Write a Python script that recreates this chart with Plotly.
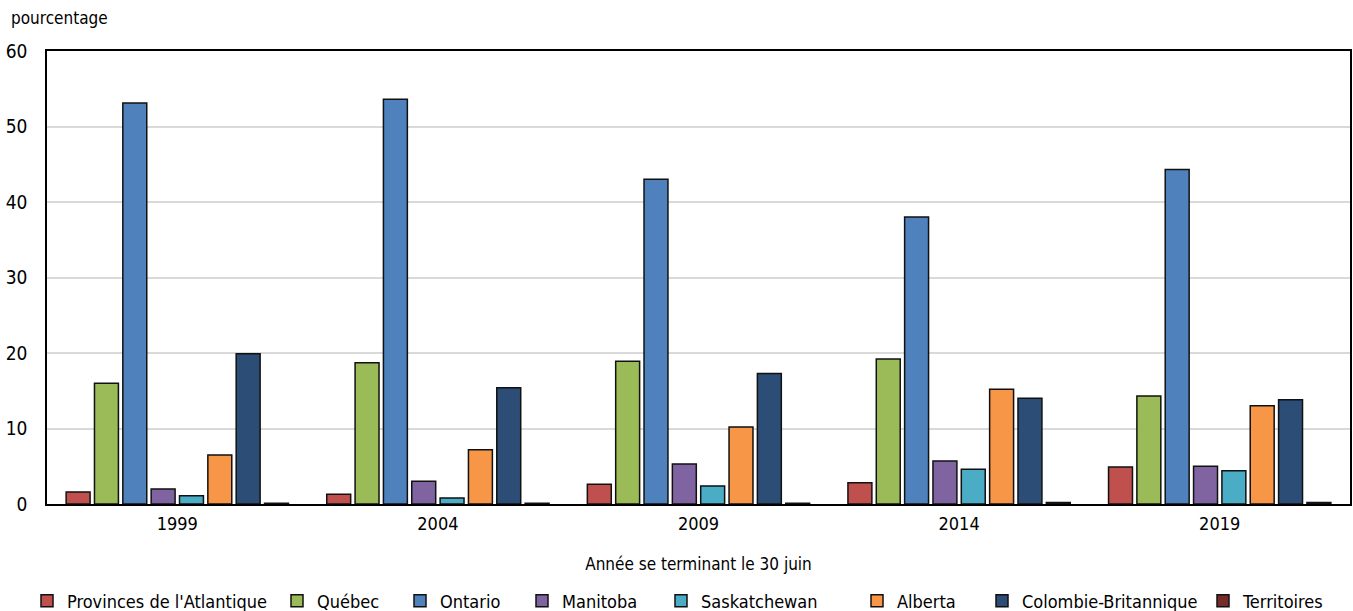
import plotly.graph_objects as go

years = ["1999", "2004", "2009", "2014", "2019"]
series_names = ["Provinces de l'Atlantique", "Québec", "Ontario", "Manitoba",
                "Saskatchewan", "Alberta", "Colombie-Britannique", "Territoires"]
atlantique = [1.6, 1.3, 2.6, 2.8, 4.9]
quebec = [16.0, 18.7, 18.9, 19.2, 14.3]
ontario = [53.1, 53.6, 43.0, 38.0, 44.3]
manitoba = [2.0, 3.0, 5.3, 5.7, 5.0]
saskatchewan = [1.1, 0.8, 2.4, 4.6, 4.4]
alberta = [6.5, 7.2, 10.2, 15.2, 13.0]
colombie = [19.9, 15.4, 17.3, 14.0, 13.8]
territoires = [0.1, 0.1, 0.1, 0.2, 0.2]
y_ticks = [0, 10, 20, 30, 40, 50, 60]

colors = ["#c0504d", "#9bbb59", "#4f81bd", "#8064a2",
          "#4bacc6", "#f79646", "#2c4d75", "#772c2a"]
values = [atlantique, quebec, ontario, manitoba, saskatchewan, alberta, colombie, territoires]
legend_sq_left = [50, 300, 423, 545, 684, 880, 1005, 1226]

W, H = 1353, 611
FONT = "Liberation Sans Narrow, DejaVu Sans Condensed, Arial Narrow, sans-serif"

fig = go.Figure()
for i, (name, vals, col) in enumerate(zip(series_names, values, colors)):
    lg = "legend" if i == 0 else f"legend{i+1}"
    fig.add_trace(go.Bar(
        x=years, y=vals, name=name,
        marker=dict(color=col, line=dict(color="#111111", width=1.5)),
        legend=lg,
    ))

layout_legends = {}
for i, sq in enumerate(legend_sq_left):
    key = "legend" if i == 0 else f"legend{i+1}"
    layout_legends[key] = dict(
        x=(sq - 23) / W, xref="container", xanchor="left",
        y=(H - 601) / H, yref="container", yanchor="middle",
        orientation="h", bgcolor="rgba(0,0,0,0)",
        font=dict(family=FONT, size=18, color="#000000"),
    )

fig.update_layout(
    width=W, height=H,
    margin=dict(l=47, r=3, t=51, b=107, autoexpand=False),
    plot_bgcolor="#ffffff", paper_bgcolor="#ffffff",
    barmode="group", bargap=0.13, bargroupgap=0.155,
    font=dict(family=FONT, size=18, color="#000000"),
    showlegend=True,
    **layout_legends,
)
fig.update_xaxes(
    type="category", showline=True, linecolor="#000000", linewidth=1.5, mirror=True,
    ticks="", showgrid=False, tickfont=dict(size=18), automargin=False,
    ticklabelstandoff=3,
    title=dict(text="Année se terminant le 30 juin", font=dict(size=17), standoff=25),
)
fig.update_yaxes(
    range=[0, 60], tickvals=y_ticks, showline=True, linecolor="#000000", linewidth=1.5,
    mirror=True, showgrid=True, gridcolor="#d9d9d9", gridwidth=1.5, zeroline=False,
    ticks="", ticklabelstandoff=14, tickfont=dict(size=19), automargin=False,
)
fig.add_annotation(
    text="pourcentage", xref="paper", yref="paper", x=0, y=1,
    xshift=-38, yshift=33, xanchor="left", yanchor="middle",
    showarrow=False, font=dict(family=FONT, size=17, color="#000000"),
)
fig.write_html("out.html", config={"displayModeBar": False},
               post_script="document.body.style.margin='0';")
